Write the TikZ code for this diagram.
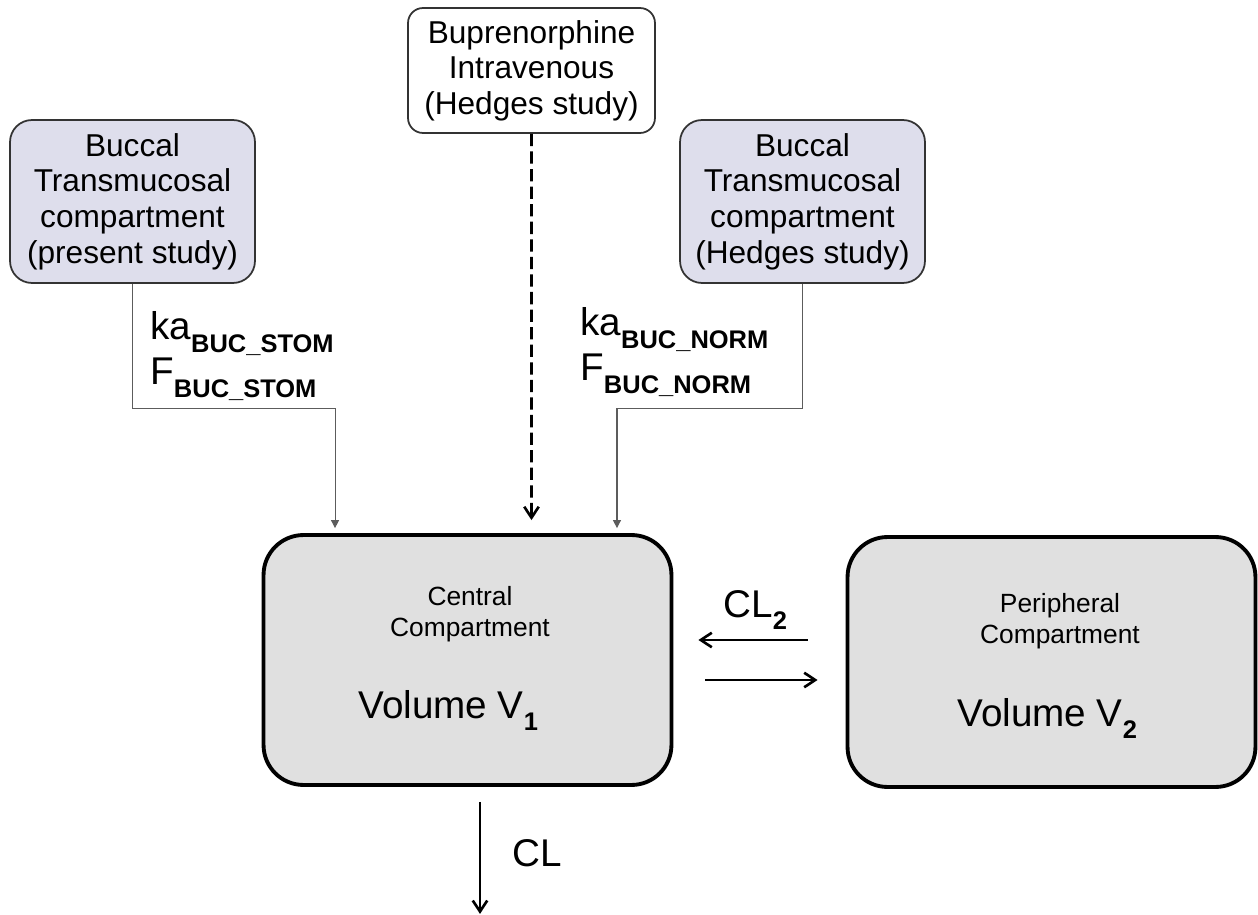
\documentclass[tikz,border=0pt]{standalone}
\usepackage{fontspec}
\setmainfont{Liberation Sans}
\usetikzlibrary{arrows.meta, calc, positioning}
\definecolor{buccfill}{RGB}{222,222,236}
\definecolor{compfill}{RGB}{224,224,224}
\definecolor{edgegray}{RGB}{51,51,51}
\newcommand{\lowtxt}[1]{\raisebox{-0.32em}{\fontsize{14.5}{14.5}\selectfont\bfseries #1}}

\begin{document}
\begin{tikzpicture}[x=0.02cm, y=-0.02cm,
    dose/.style={draw=edgegray, line width=1pt, rounded corners=4.4mm, align=center,
                 font=\fontsize{18}{20.3}\selectfont, inner sep=2pt,
                 minimum width=4.9cm, minimum height=3.26cm, fill=buccfill},
    ivdose/.style={dose, fill=white, rounded corners=3mm,
                   minimum width=4.94cm, minimum height=2.5cm},
    comp/.style={draw=black, line width=2.2pt, rounded corners=8mm, fill=compfill,
                 minimum width=8.16cm, minimum height=5cm},
    comptext/.style={align=center, font=\fontsize{15}{18}\selectfont},
    voltext/.style={anchor=base west, font=\fontsize{22}{24}\selectfont, inner sep=0pt},
    param/.style={anchor=base west, font=\fontsize{22}{24}\selectfont, inner sep=0pt},
    feed/.style={draw=edgegray!80, line width=0.6pt,
                 -{Triangle[length=1.6mm, width=1.6mm]}},
    flow/.style={line width=1.5pt, -{Straight Barb[length=2.2mm, width=2.9mm]}},
]
\useasboundingbox (0,0) rectangle (1258,915);

% dosing boxes
\node[dose]   (bucl)  at (132.5,201.5) {Buccal\\Transmucosal\\compartment\\(present study)};
\node[ivdose] (ivbox) at (531.5,70.5)  {Buprenorphine\\Intravenous\\(Hedges study)};
\node[dose]   (bucr)  at (802.5,201.5) {Buccal\\Transmucosal\\compartment\\(Hedges study)};

% compartments
\node[comp] (central) at (467.5,660) {};
\node[comp] (periph)  at (1051.5,662) {};
\node[comptext] (centtxt) at (470,614)  {Central\\Compartment};
\node[comptext] (perftxt) at (1060,621) {Peripheral\\Compartment};
\node[voltext] (vol1) at (358,718) {Volume V\lowtxt{1}};
\node[voltext] (vol2) at (957,726) {Volume V\lowtxt{2}};

% absorption parameters
\node[param] (kastom) at (150,340) {ka\lowtxt{BUC\_STOM}};
\node[param] (fstom)  at (150,385) {F\lowtxt{BUC\_STOM}};
\node[param] (kanorm) at (580,336) {ka\lowtxt{BUC\_NORM}};
\node[param] (fnorm)  at (580,381) {F\lowtxt{BUC\_NORM}};
\node[param] (cltwo)  at (723,617) {CL\lowtxt{2}};
\node[param] (clout)  at (512,866) {CL};

% connectors
\draw[feed] (bucl.south) -- ++(0,125) -| ([xshift=-2.65cm, yshift=0.1cm]central.north);
\draw[feed] (bucr.south) -- ++(0,125) -| ([xshift=2.99cm, yshift=0.1cm]central.north);
\draw[flow, dashed, dash pattern=on 7pt off 3pt] (ivbox.south) -- ([xshift=1.28cm, yshift=0.26cm]central.north);
\draw[flow] ($(periph.west)+(-38,-22)$) -- ($(central.east)+(25,-20)$);
\draw[flow] ($(central.east)+(32,20)$) -- ($(periph.west)+(-28,18)$);
\coordinate (elim) at ($(central.south)+(12.5,127)$);
\draw[flow] ($(central.south)+(12.5,15)$) -- (elim);
\end{tikzpicture}
\end{document}
